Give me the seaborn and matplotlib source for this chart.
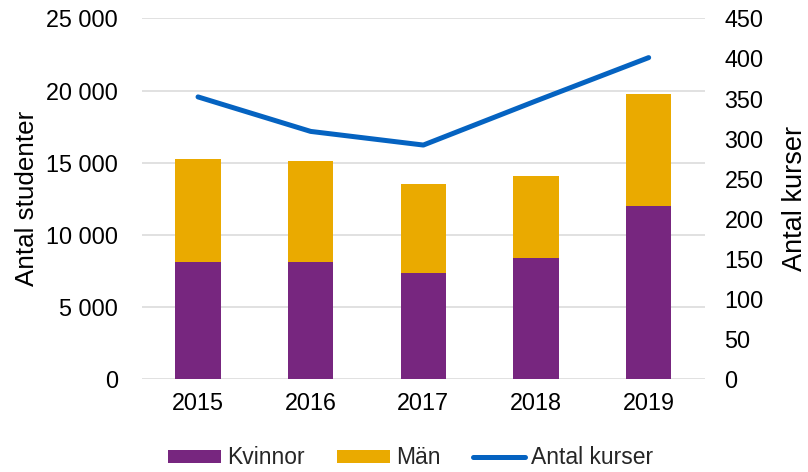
import numpy as np
import pandas as pd
import matplotlib
matplotlib.use("Agg")
import matplotlib.pyplot as plt
import seaborn as sns
from matplotlib.ticker import FuncFormatter
from matplotlib.patches import Patch
from matplotlib.lines import Line2D

years = ["2015", "2016", "2017", "2018", "2019"]
kvinnor = [8120, 8120, 7380, 8400, 12020]
man = [7140, 6980, 6140, 5700, 7740]
antal_kurser = [352, 309, 292, 347, 401]

sns.set_theme(style="white")
plt.rcParams["font.family"] = ["Liberation Sans", "DejaVu Sans"]

C_K = "#77267F"
C_M = "#EAAA00"
C_L = "#0563C1"
FS = 16.8

df = pd.DataFrame({"year": years, "Kvinnor": kvinnor, "Män": man})
df["total"] = df["Kvinnor"] + df["Män"]

fig = plt.figure(figsize=(8.08, 4.72), dpi=100)
ax = fig.add_axes([141.7 / 808, 1 - 379.3 / 472, (705 - 141.7) / 808, (379.3 - 18.3) / 472])

sns.barplot(data=df, x="year", y="total", color=C_M, width=0.4, ax=ax,
            saturation=1, linewidth=0, zorder=2)
sns.barplot(data=df, x="year", y="Kvinnor", color=C_K, width=0.4, ax=ax,
            saturation=1, linewidth=0, zorder=3)

ax.set_ylim(0, 25000)
ax.set_xlim(-0.5, 4.5)
ax.set_yticks(np.arange(0, 25001, 5000))
ax.yaxis.set_major_formatter(FuncFormatter(lambda v, p: f"{int(v):,}".replace(",", " ")))
ax.grid(axis="y", color="#D9D9D9", linewidth=1.1, zorder=0)
ax.set_axisbelow(True)
for s in ax.spines.values():
    s.set_visible(False)
ax.tick_params(axis="y", length=0, pad=17, labelsize=FS, colors="black")
ax.tick_params(axis="x", length=0, pad=9, labelsize=FS, colors="black")
ax.set_xlabel("")
ax.set_ylabel("Antal studenter", fontsize=18.7, color="black", labelpad=5)

ax2 = ax.twinx()
sns.lineplot(x=np.arange(len(years)), y=antal_kurser, color=C_L, linewidth=3.6,
             ax=ax2, solid_capstyle="round", zorder=5)
ax2.set_ylim(0, 450)
ax2.set_yticks(np.arange(0, 451, 50))
for s in ax2.spines.values():
    s.set_visible(False)
ax2.tick_params(axis="y", length=0, pad=14, labelsize=FS, colors="black")
ax2.set_ylabel("Antal kurser", fontsize=19.5, color="black", labelpad=13)
ax2.grid(False)

handles = [Patch(facecolor=C_K, edgecolor="none"),
           Patch(facecolor=C_M, edgecolor="none"),
           Line2D([0], [0], color=C_L, linewidth=3.6, solid_capstyle="round")]
fig.legend(handles, ["Kvinnor", "Män", "Antal kurser"], loc="center",
           bbox_to_anchor=(411 / 808, 1 - 458 / 472), ncol=3, frameon=False,
           fontsize=16.5, handlelength=2.3, handleheight=0.5, handletextpad=0.27,
           columnspacing=1.4, borderaxespad=0, borderpad=0)

fig.savefig("out.png", dpi=100)
